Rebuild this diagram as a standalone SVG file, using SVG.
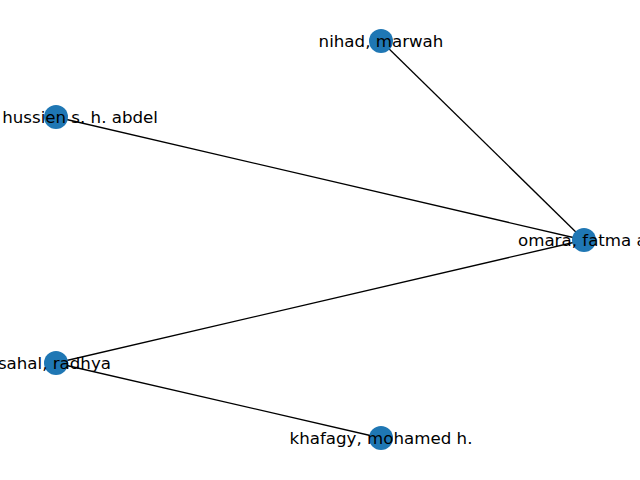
<svg xmlns="http://www.w3.org/2000/svg" width="640" height="480" viewBox="0 0 640 480">
<style>
.e{stroke:#000;stroke-width:1.3;fill:none}
.n{fill:#1f77b4}
text{font-family:"DejaVu Sans",sans-serif;font-size:16.67px;fill:#000;dominant-baseline:central}
</style>
<rect width="640" height="480" fill="#fff"/>
<g id="edges">
<line class="e" x1="381" y1="41" x2="584" y2="240"/>
<line class="e" x1="56" y1="117" x2="584" y2="240"/>
<line class="e" x1="56" y1="363" x2="584" y2="240"/>
<line class="e" x1="56" y1="363" x2="381" y2="438"/>
</g>
<g id="node-nihad"><circle class="n" cx="381" cy="41" r="12"/><text x="381" y="41" text-anchor="middle">nihad, marwah</text></g>
<g id="node-hussien"><circle class="n" cx="56" cy="117" r="12"/><text x="158" y="117" text-anchor="end">hussien s. h. abdel</text></g>
<g id="node-omara"><circle class="n" cx="584" cy="240" r="12"/><text x="518" y="240">omara, fatma a</text></g>
<g id="node-sahal"><circle class="n" cx="56" cy="363" r="12"/><text x="111" y="363" text-anchor="end">sahal, radhya</text></g>
<g id="node-khafagy"><circle class="n" cx="381" cy="438" r="12"/><text x="381" y="438" text-anchor="middle">khafagy, mohamed h.</text></g>
</svg>
